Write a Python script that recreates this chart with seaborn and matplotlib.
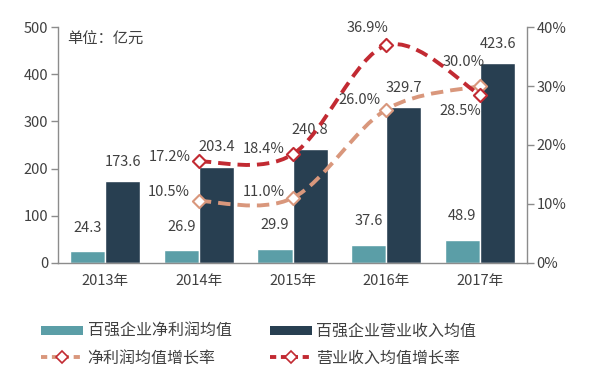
import matplotlib
matplotlib.use('Agg')
import matplotlib.pyplot as plt
import numpy as np
import pandas as pd
import seaborn as sns
from matplotlib.path import Path
from matplotlib.patches import PathPatch, Patch
from matplotlib.lines import Line2D

# chart data
years = ['2013年', '2014年', '2015年', '2016年', '2017年']
profit_avg = [24.3, 26.9, 29.9, 37.6, 48.9]
revenue_avg = [173.6, 203.4, 240.8, 329.7, 423.6]
profit_growth = [None, 10.5, 11.0, 26.0, 30.0]
revenue_growth = [None, 17.2, 18.4, 36.9, 28.5]

bar_names = ['百强企业净利润均值', '百强企业营业收入均值']
line_names = ['净利润均值增长率', '营业收入均值增长率']

teal = '#5b9ea7'
navy = '#283f51'
tan = '#d9977c'
red = '#c22a32'
text_c = '#404040'
spine_c = '#8c8c8c'

sns.set_theme(style='white')
plt.rcParams['font.family'] = ['Noto Sans CJK SC', 'DejaVu Sans']

df = pd.DataFrame({
    'year': years * 2,
    'value': profit_avg + revenue_avg,
    'series': [bar_names[0]] * 5 + [bar_names[1]] * 5,
})

fig = plt.figure(figsize=(6, 3.81), dpi=100)
ax = fig.add_axes([0.097, 0.31, 0.781, 0.619])
sns.barplot(data=df, x='year', y='value', hue='series', palette=[teal, navy],
            width=0.75, saturation=1, ax=ax, legend=False)
ax.set_ylim(0, 500)
ax.set_xlim(-0.5, 4.5)
ax.set_yticks([0, 100, 200, 300, 400, 500])
ax.set_xlabel('')
ax.set_ylabel('')
ax.set_xticks(range(5))
ax.set_xticklabels(years)
ax.set_xticks([0.5, 1.5, 2.5, 3.5], minor=True)
ax.tick_params(axis='x', which='major', length=0, pad=8, labelsize=10.5, labelcolor=text_c)
ax.tick_params(axis='x', which='minor', length=5, width=1, color=spine_c, direction='out')
ax.tick_params(axis='y', length=5, width=1, color=spine_c, direction='out', left=True,
               labelsize=10.5, labelcolor=text_c, pad=2)
for s in ['top', 'right']:
    ax.spines[s].set_visible(False)
for s in ['left', 'bottom']:
    ax.spines[s].set_color(spine_c)
    ax.spines[s].set_linewidth(1)

# bar labels
ax.bar_label(ax.containers[0], labels=[f'{v:.1f}' for v in profit_avg], padding=12,
             fontsize=10.5, color=text_c)
ax.bar_label(ax.containers[1], labels=[f'{v:.1f}' for v in revenue_avg], padding=9,
             fontsize=10.5, color=text_c)

ax.text(0.02, 0.985, '单位：亿元', transform=ax.transAxes, fontsize=11,
        color=text_c, va='top', ha='left')

# growth rate lines on right axis
ax2 = ax.twinx()
ax2.set_ylim(0, 40)
ax2.set_yticks([0, 10, 20, 30, 40])
ax2.set_yticklabels(['0%', '10%', '20%', '30%', '40%'])
ax2.tick_params(axis='y', length=5, width=1, color=spine_c, direction='out', right=True,
                labelsize=10.5, labelcolor=text_c, pad=2)
for s in ['top', 'left', 'bottom']:
    ax2.spines[s].set_visible(False)
ax2.spines['right'].set_color(spine_c)
ax2.spines['right'].set_linewidth(1)


def smooth_path(xs, ys, t=1 / 6):
    # Catmull-Rom style bezier through the points
    pts = np.column_stack([xs, ys])
    verts = [pts[0]]
    codes = [Path.MOVETO]
    n = len(pts)
    for i in range(n - 1):
        p0 = pts[i - 1] if i > 0 else pts[i]
        p1 = pts[i]
        p2 = pts[i + 1]
        p3 = pts[i + 2] if i + 2 < n else pts[i + 1]
        c1 = p1 + (p2 - p0) * t
        c2 = p2 - (p3 - p1) * t
        verts += [c1, c2, p2]
        codes += [Path.CURVE4] * 3
    return Path(verts, codes)


# label offsets in pixels (dx, dy) relative to the markers
profit_offs = [(-30, 9), (-29, 6), (-27, 10), (-16, 24)]
revenue_offs = [(-29, 4), (-29, 5), (-19, 17), (-20, -16)]

for vals, color, offs in [(profit_growth, tan, profit_offs), (revenue_growth, red, revenue_offs)]:
    xs = [i for i, v in enumerate(vals) if v is not None]
    ys = [v for v in vals if v is not None]
    patch = PathPatch(smooth_path(xs, ys), facecolor='none', edgecolor=color, lw=2.8,
                      linestyle=(0, (3.2, 1.8)), capstyle='butt', zorder=3)
    ax2.add_patch(patch)
    sns.scatterplot(x=xs, y=ys, marker='D', s=45, color='white', edgecolor=color,
                    linewidth=1.5, zorder=4, ax=ax2, legend=False)
    for x, y, (dx, dy) in zip(xs, ys, offs):
        ax2.annotate(f'{y:.1f}%', (x, y), xytext=(dx * 0.72, dy * 0.72),
                     textcoords='offset points', ha='center', va='center',
                     fontsize=10.5, color=text_c, zorder=5)

handles = [
    Patch(facecolor=teal, edgecolor='none'),
    Line2D([0], [0], color=tan, lw=2.8, linestyle=(0, (1.6, 1.2)), marker='D',
           markersize=6, markerfacecolor='white', markeredgecolor=red, markeredgewidth=1.2),
    Patch(facecolor=navy, edgecolor='none'),
    Line2D([0], [0], color=red, lw=2.8, linestyle=(0, (1.6, 1.2)), marker='D',
           markersize=6, markerfacecolor='white', markeredgecolor=red, markeredgewidth=1.2),
]
labels = [bar_names[0], line_names[0], bar_names[1], line_names[1]]
fig.legend(handles, labels, ncol=2, loc='lower left', bbox_to_anchor=(0.045, 0.0),
           frameon=False, fontsize=11.5, handlelength=2.6, handleheight=0.55,
           columnspacing=2.4, handletextpad=0.3, labelspacing=0.6, labelcolor=text_c)

fig.savefig('out.png', dpi=100)
